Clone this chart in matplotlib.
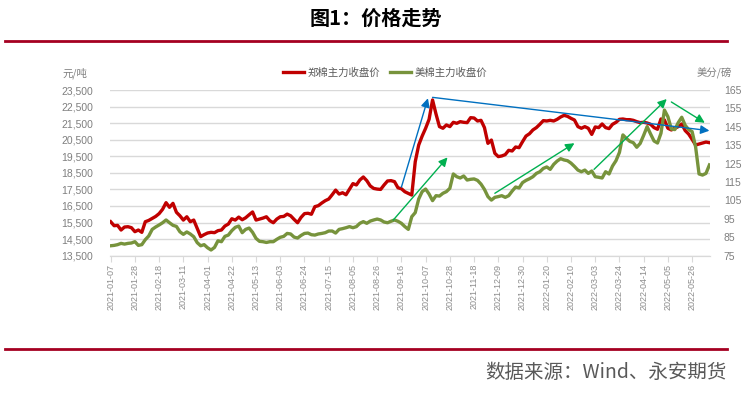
import matplotlib
matplotlib.use("Agg")
import matplotlib.pyplot as plt
import matplotlib.dates as mdates
import matplotlib.ticker as mticker
import pandas as pd
import numpy as np

plt.rcParams['font.family'] = ['Noto Sans CJK SC', 'DejaVu Sans']

# ---------------- data ----------------
dates = pd.date_range("2021-01-07", periods=174, freq="3D")

zce_cotton = [  # 郑棉主力收盘价 (元/吨)
    15550, 15310, 15330, 15050, 15230, 15250, 15190, 14950, 15050, 14910,
    15550, 15630, 15750, 15870, 16040, 16300, 16700, 16420, 16660, 16120,
    15910, 15650, 15850, 15550, 15650, 15150, 14650, 14770, 14870, 14910,
    14890, 15010, 15050, 15290, 15410, 15730, 15650, 15830, 15670, 15790,
    15970, 16140, 15650, 15710, 15770, 15850, 15610, 15490, 15710, 15850,
    15870, 16010, 15910, 15690, 15490, 15810, 16040, 16060, 16000, 16460,
    16520, 16680, 16820, 16920, 17180, 17460, 17220, 17300, 17180, 17520,
    17850, 17770, 18070, 18250, 18030, 17710, 17560, 17520, 17500, 17770,
    18010, 18030, 17970, 17600, 17540, 17360, 17260, 17160, 19170, 20180,
    20720, 21190, 21730, 22900, 22050, 21290, 21190, 21390, 21290, 21550,
    21490, 21590, 21550, 21530, 21830, 21810, 21630, 21670, 21230, 20280,
    20480, 19680, 19480, 19520, 19600, 19860, 19820, 20060, 20020, 20380,
    20720, 20860, 21090, 21230, 21430, 21650, 21630, 21670, 21630, 21730,
    21870, 21970, 21910, 21790, 21690, 21290, 21190, 21290, 21190, 20820,
    21270, 21230, 21450, 21230, 21170, 21430, 21550, 21730, 21750, 21710,
    21710, 21670, 21590, 21530, 21550, 21510, 21430, 21230, 21130, 21750,
    21690, 21190, 21090, 21190, 21290, 21450, 21050, 20840, 20520, 20180,
    20240, 20300, 20360, 20320,
]

ice_cotton = [  # 美棉主力收盘价 (美分/磅)
    80.4, 80.6, 81.0, 81.7, 81.3, 81.7, 81.9, 82.6, 80.6, 81.0,
    83.7, 85.7, 89.3, 90.6, 91.7, 92.9, 94.4, 92.9, 91.5, 90.9,
    88.0, 86.6, 87.9, 86.8, 85.3, 82.1, 80.4, 81.0, 79.3, 78.1,
    79.5, 83.1, 82.6, 85.5, 86.2, 88.6, 90.4, 91.1, 87.5, 89.3,
    90.0, 87.7, 84.4, 82.8, 82.6, 82.2, 82.6, 82.6, 83.9, 85.0,
    85.5, 87.1, 86.8, 85.1, 84.6, 86.0, 87.1, 87.3, 86.4, 86.2,
    86.8, 87.1, 87.5, 88.4, 88.4, 87.3, 89.3, 89.7, 90.2, 90.8,
    90.2, 90.8, 92.6, 93.5, 92.6, 93.8, 94.4, 94.9, 94.4, 93.3,
    92.9, 93.7, 94.4, 93.7, 92.6, 90.8, 89.3, 96.2, 98.4, 105.8,
    109.8, 111.2, 108.5, 104.9, 107.6, 107.4, 108.9, 109.8, 111.6, 119.4,
    117.9, 117.2, 118.3, 116.1, 116.5, 116.7, 115.9, 113.9, 111.0, 107.1,
    105.2, 106.7, 107.1, 107.6, 106.7, 107.6, 110.1, 112.3, 111.8, 114.7,
    115.9, 116.8, 117.9, 119.7, 120.6, 122.4, 123.2, 121.9, 124.6, 126.4,
    127.7, 127.0, 126.6, 125.3, 123.5, 121.5, 120.6, 121.5, 119.7, 121.0,
    117.9, 117.6, 117.2, 120.6, 119.4, 123.7, 126.6, 131.1, 140.6, 138.7,
    137.1, 136.4, 133.9, 136.0, 140.4, 145.1, 141.1, 137.3, 136.2, 141.5,
    154.1, 150.5, 143.8, 143.5, 147.3, 150.2, 145.8, 143.5, 142.4, 134.2,
    119.4, 118.8, 119.7, 124.3,
]

series_names = ["郑棉主力收盘价", "美棉主力收盘价"]
left_ticks = list(range(13500, 23501, 1000))
right_ticks = list(range(75, 166, 10))
tick_dates = pd.date_range("2021-01-07", "2022-05-26", freq="21D")

# hand-drawn trend arrows (start date, start value, end date, end value) on right axis scale
blue_arrows = [
    ("2021-09-16", 112.2, "2021-10-09", 160.5),
    ("2021-10-13", 161.0, "2022-06-10", 142.9),
]
green_arrows = [
    ("2021-09-09", 94.4, "2021-10-26", 128.4),
    ("2021-12-06", 108.9, "2022-02-13", 136.1),
    ("2022-03-02", 121.9, "2022-05-04", 160.1),
    ("2022-05-08", 158.5, "2022-06-06", 147.2),
]

# ---------------- style ----------------
RED = "#C00000"
GREEN = "#77933C"
BLUE = "#0070C0"
ARROW_GREEN = "#00B050"
DARKRED = "#A50021"
TXT = "#7F7F7F"
GRID = "#D9D9D9"

fig = plt.figure(figsize=(7.53, 3.98), dpi=100)
ax = fig.add_axes([110 / 753, 1 - 255.7 / 398, 600 / 753, (255.7 - 90) / 398])
ax2 = ax.twinx()

l1, = ax.plot(dates, zce_cotton, color=RED, lw=2.4, solid_joinstyle="round", zorder=3)
l2, = ax2.plot(dates, ice_cotton, color=GREEN, lw=2.4, solid_joinstyle="round", zorder=3)

ax.set_ylim(left_ticks[0], left_ticks[-1])
ax.set_yticks(left_ticks)
ax.yaxis.set_major_formatter(mticker.FuncFormatter(lambda v, p: f"{int(v):,}"))
ax2.set_ylim(right_ticks[0], right_ticks[-1])
ax2.set_yticks(right_ticks)

x0 = pd.Timestamp("2021-01-07") - pd.Timedelta(hours=14)
x1 = pd.Timestamp("2022-06-10") + pd.Timedelta(hours=12)
ax.set_xlim(x0, x1)
ax.set_xticks(tick_dates)
ax.set_xticklabels([d.strftime("%Y-%m-%d") for d in tick_dates], rotation=90,
                   fontsize=6.5, color="#8C8C8C", family=["Liberation Sans", "DejaVu Sans"])

ax.grid(axis="y", color=GRID, lw=1)
ax.set_axisbelow(True)
for a in (ax, ax2):
    for s in ("top", "left", "right"):
        a.spines[s].set_visible(False)
    a.spines["bottom"].set_color(GRID)
ax.tick_params(axis="y", length=0, labelsize=7.5, labelcolor=TXT, pad=12)
ax2.tick_params(axis="y", length=0, labelsize=7.5, labelcolor=TXT, pad=10)
ax.tick_params(axis="x", length=4, color=GRID, pad=2)
for lab in ax.get_yticklabels() + ax2.get_yticklabels():
    lab.set_family(["Liberation Sans", "DejaVu Sans"])

def draw_arrows(lst, color):
    for sd, sv, ed, ev in lst:
        ax2.annotate("", xy=(pd.Timestamp(ed), ev), xytext=(pd.Timestamp(sd), sv),
                     arrowprops=dict(arrowstyle="-|>", color=color, lw=1.0,
                                     mutation_scale=13, shrinkA=0, shrinkB=0),
                     zorder=5)

draw_arrows(blue_arrows, BLUE)
draw_arrows(green_arrows, ARROW_GREEN)

# legend
fig.legend([l1, l2], series_names, loc="center", bbox_to_anchor=(385 / 753, 1 - 73 / 398),
           ncol=2, frameon=False, fontsize=7.5, labelcolor="#595959",
           handlelength=2.0, handletextpad=0.3, columnspacing=1.0)

# axis unit labels
fig.text(75 / 753, 1 - 73 / 398, "元/吨", ha="center", va="center", fontsize=7.5, color=TXT)
fig.text(714 / 753, 1 - 73 / 398, "美分/磅", ha="center", va="center", fontsize=7.5, color=TXT)

# title and rules
fig.text(376 / 753, 1 - 18 / 398, "图1：价格走势", ha="center", va="center",
         fontsize=14.5, fontweight="bold", color="black")
fig.add_artist(plt.Line2D([5 / 753, 727 / 753], [1 - 41 / 398, 1 - 41 / 398],
                          color=DARKRED, lw=2.0, transform=fig.transFigure))
fig.add_artist(plt.Line2D([5 / 753, 727 / 753], [1 - 349 / 398, 1 - 349 / 398],
                          color=DARKRED, lw=2.0, transform=fig.transFigure))
fig.text(727 / 753, 1 - 373 / 398, "数据来源：Wind、永安期货", ha="right", va="center",
         fontsize=14, color="#595959")

fig.savefig("out.png", dpi=100)
